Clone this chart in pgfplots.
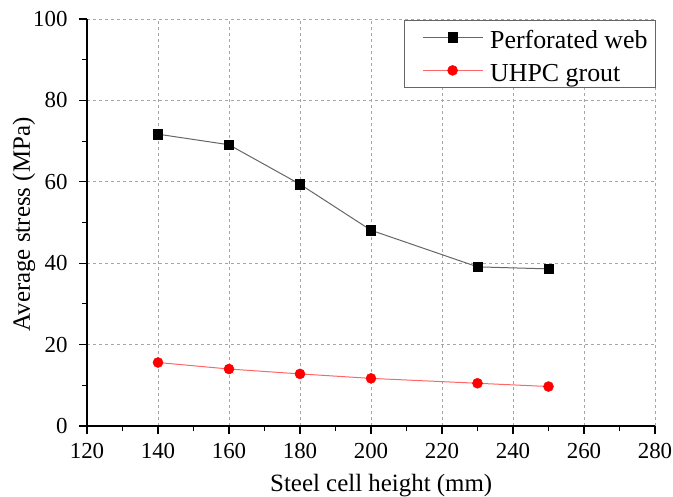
\documentclass[border=0pt]{standalone}
\usepackage{pgfplots}
\pgfplotsset{compat=1.18}
\usepackage{fontspec}
\setmainfont{Liberation Serif}
\begin{document}
\begin{tikzpicture}
\path[use as bounding box] (-87bp,-71bp) rectangle (586bp,426bp);
\begin{axis}[
  at={(0,0)}, anchor=origin,
  scale only axis,
  width=568bp, height=407bp,
  xmin=120, xmax=280, ymin=0, ymax=100,
  xtick={120,140,...,280}, ytick={0,20,...,100},
  minor x tick num=1, minor y tick num=1,
  axis x line*=bottom, axis y line*=left,
  axis line style={line width=1.3bp, -},
  tick align=outside,
  major tick length=8bp, minor tick length=5bp,
  tick style={line width=1.1bp, black},
  grid=major,
  major grid style={dash pattern=on 3bp off 3bp, gray!70, line width=0.7bp},
  ticklabel style={font=\fontsize{23}{25}\selectfont},
  xticklabel style={yshift=-6bp},
  yticklabel style={xshift=-8bp},
  /pgf/number format/assume math mode=true,
  xlabel={Steel cell height (mm)},
  ylabel={Average stress (MPa)},
  label style={font=\fontsize{25}{27}\selectfont},
  xlabel style={at={(axis description cs:0.518,-0.162)}, anchor=base},
  ylabel style={at={(axis description cs:-0.111,0.495)}, anchor=center, rotate=0},
  legend style={at={(axis description cs:1.0018,0.9975)}, anchor=north east,
    draw=gray!80!black, line width=0.8bp,
    font=\fontsize{26}{28}\selectfont, inner xsep=6bp, inner ysep=0.5bp,
    nodes={inner sep=2bp, text height=26bp, text depth=3bp},
    column sep=5bp,
    legend cell align=left},
  legend image code/.code={
    \path (0bp,0bp);
    \draw[#1, mark=none] (12bp,0bp) -- (72bp,0bp);
    \draw[#1, only marks] plot coordinates {(42bp,0bp)};
  },
  clip=false,
]
\addplot[color=black!60, line width=1bp, mark=square*, mark size=4.7bp,
  mark options={fill=black, draw=black, line width=0.5bp}]
  coordinates {(140,71.7) (160,69.1) (180,59.4) (200,48.1) (230,39.1) (250,38.6)};
\addlegendentry{Perforated web}
\addplot[color=red!60, line width=1bp, mark=*, mark size=5bp,
  mark options={fill=red, draw=red, line width=0.5bp}]
  coordinates {(140,15.6) (160,14.0) (180,12.8) (200,11.7) (230,10.5) (250,9.7)};
\addlegendentry{UHPC grout}
\end{axis}
\end{tikzpicture}
\end{document}
